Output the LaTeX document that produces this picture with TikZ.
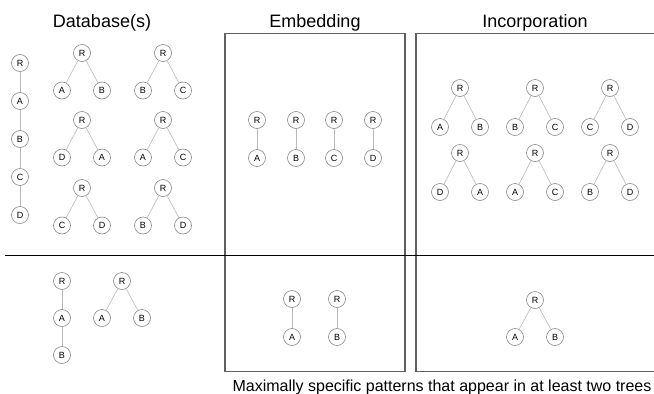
\documentclass[tikz,border=0pt]{standalone}
\usepackage{fontspec}
\setmainfont{Liberation Sans}
\usetikzlibrary{calc}

\definecolor{panelgray}{RGB}{95,95,95}
\definecolor{vtxgray}{RGB}{135,135,135}
\definecolor{edgegray}{RGB}{185,185,185}
\tikzset{
  vtx/.style={
    circle,
    draw=vtxgray,
    fill=white,
    line width=0.6pt,
    minimum size=17pt,
    inner sep=0pt,
    font=\fontsize{9}{10}\selectfont
  },
  treeedge/.style={draw=edgegray,line width=0.6pt},
  panel/.style={draw=panelgray,line width=1.2pt},
  splitline/.style={draw=black,line width=1pt},
  heading/.style={anchor=base,font=\fontsize{18}{20}\selectfont},
  caption/.style={anchor=base,font=\fontsize{16}{18}\selectfont}
}
% root with two children: name, x, y, drop, left label, right label
\newcommand{\pairtree}[6]{%
  \node[vtx] (#1) at (#2,#3) {R};
  \node[vtx] (#1-l) at (#2-20,#3+#4) {#5};
  \node[vtx] (#1-r) at (#2+20,#3+#4) {#6};
  \draw[treeedge] (#1) -- (#1-l) (#1) -- (#1-r);
}
% root with one child: name, x, y, drop, child label
\newcommand{\sticktree}[5]{%
  \node[vtx] (#1) at (#2,#3) {R};
  \node[vtx] (#1-c) at (#2,#3+#4) {#5};
  \draw[treeedge] (#1) -- (#1-c);
}

\begin{document}
\begin{tikzpicture}[x=1pt,y=-1pt]
  \useasboundingbox (0,0) rectangle (654,394);

  \node[heading] (dbtitle) at (102,27) {Database(s)};
  \node[heading] (embtitle) at (315,27) {Embedding};
  \node[heading] (inctitle) at (535,27) {Incorporation};

  \draw[panel] (225,33.5) rectangle (405,371.5);
  \draw[panel] (654,33.5) -| (416,371.5) -- (654,371.5);
  \draw[splitline] (5,255) -- (654,255);

  % database, first set
  \node[vtx] (chR) at (20,63) {R};
  \node[vtx] (chA) at (20,101) {A};
  \node[vtx] (chB) at (20,139) {B};
  \node[vtx] (chC) at (20,177) {C};
  \node[vtx] (chD) at (20,215) {D};
  \draw[treeedge] (chR) -- (chA) -- (chB) -- (chC) -- (chD);

  \pairtree{dbab}{82}{53}{37.5}{A}{B}
  \pairtree{dbbc}{163}{53}{37.5}{B}{C}
  \pairtree{dbda}{82}{120}{37.5}{D}{A}
  \pairtree{dbac}{163}{120}{37.5}{A}{C}
  \pairtree{dbcd}{82}{188}{37.5}{C}{D}
  \pairtree{dbbd}{163}{188}{37.5}{B}{D}

  % embedding, first set
  \sticktree{emba}{257}{120}{38}{A}
  \sticktree{embb}{296}{120}{38}{B}
  \sticktree{embc}{334}{120}{38}{C}
  \sticktree{embd}{373}{120}{38}{D}

  % incorporation, first set
  \pairtree{incab}{460}{88}{39}{A}{B}
  \pairtree{incbc}{535}{88}{39}{B}{C}
  \pairtree{inccd}{610}{88}{39}{C}{D}
  \pairtree{incda}{460}{153}{39}{D}{A}
  \pairtree{incac}{535}{153}{39}{A}{C}
  \pairtree{incbd}{610}{153}{39}{B}{D}

  % second set
  \node[vtx] (lowR) at (62,281) {R};
  \node[vtx] (lowA) at (62,318) {A};
  \node[vtx] (lowB) at (62,355) {B};
  \draw[treeedge] (lowR) -- (lowA) -- (lowB);
  \pairtree{lowab}{122}{281}{37}{A}{B}

  \sticktree{lowemba}{292}{299}{38}{A}
  \sticktree{lowembb}{337}{299}{38}{B}

  \pairtree{lowinc}{535}{300}{37}{A}{B}

  \node[caption] (note) at (442,391) {Maximally specific patterns that appear in at least two trees};
\end{tikzpicture}
\end{document}
